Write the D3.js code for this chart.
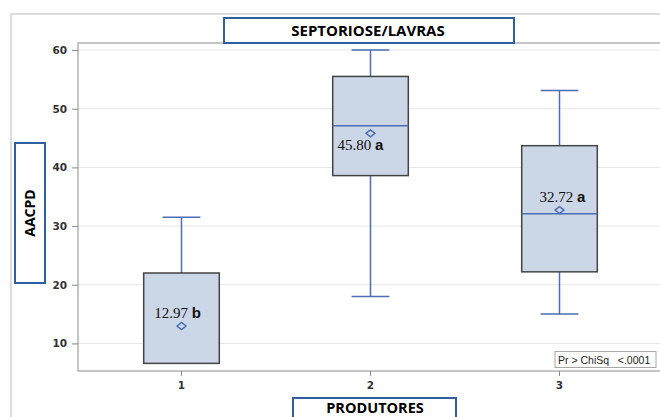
<!DOCTYPE html>
<html><head><meta charset="utf-8">
<script src="https://cdn.jsdelivr.net/npm/d3@7"></script>
<style>html,body{margin:0;padding:0;background:#fff;}svg{display:block;}</style>
</head><body>
<svg id="c" width="660" height="417"></svg>
<script>
const categories = ["1", "2", "3"];
const whiskerLow = [6.6, 18.0, 15.0];
const q1 = [6.6, 38.6, 22.2];
const median = [6.6, 47.1, 32.1];
const q3 = [22.0, 55.5, 43.7];
const whiskerHigh = [31.5, 60.0, 53.1];
const means = [12.97, 45.80, 32.72];
const meanLabels = ["12.97", "45.80", "32.72"];
const groupLetters = ["b", "a", "a"];
const yTicks = [10, 20, 30, 40, 50, 60];
const title = "SEPTORIOSE/LAVRAS";
const xTitle = "PRODUTORES";
const yTitle = "AACPD";
const insetText = ["Pr > ChiSq", "<.0001"];

const svg = d3.select("#c");
const L = 78, T = 43, B = 371, R = 680;
const y = d3.scaleLinear().domain([5.3, 61.2]).range([B, T]);
const x = d3.scaleBand().domain(categories).range([87, 654]).paddingInner(0.6).paddingOuter(0.3);

// outer frame
svg.append("rect").attr("x", 11).attr("y", 14).attr("width", 700).attr("height", 450)
  .attr("fill", "none").attr("stroke", "#dcdcdc").attr("stroke-width", 2);

// gridlines
svg.append("g").selectAll("line").data(yTicks).join("line")
  .attr("x1", L).attr("x2", R).attr("y1", d => y(d)).attr("y2", d => y(d))
  .attr("stroke", "#e6e6e6").attr("stroke-width", 1);

// plot frame
svg.append("rect").attr("x", L).attr("y", T).attr("width", R - L).attr("height", B - T)
  .attr("fill", "none").attr("stroke", "#a0a0a0").attr("stroke-width", 1.2);

// y axis
const ya = svg.append("g").attr("transform", `translate(${L},0)`)
  .call(d3.axisLeft(y).tickValues(yTicks).tickSize(6).tickPadding(5));
ya.select(".domain").remove();
ya.selectAll(".tick line").attr("stroke", "#888");
ya.selectAll(".tick text").attr("font-family", "'DejaVu Sans', sans-serif").attr("font-size", 10.5)
  .attr("font-weight", "bold").attr("fill", "#333");

// x axis
const xa = svg.append("g").attr("transform", `translate(0,${B})`)
  .call(d3.axisBottom(x).tickSize(5).tickPadding(6));
xa.select(".domain").remove();
xa.selectAll(".tick line").attr("stroke", "#888");
xa.selectAll(".tick text").attr("font-family", "'DejaVu Sans', sans-serif").attr("font-size", 10.5)
  .attr("font-weight", "bold").attr("fill", "#333");

const blue = "#4a6db5";
const bw = x.bandwidth();
const g = svg.append("g");
categories.forEach((c, i) => {
  const cx = x(c) + bw / 2;
  g.append("line").attr("x1", cx).attr("x2", cx).attr("y1", y(q3[i])).attr("y2", y(whiskerHigh[i]))
    .attr("stroke", blue).attr("stroke-width", 1.5);
  g.append("line").attr("x1", cx).attr("x2", cx).attr("y1", y(q1[i])).attr("y2", y(whiskerLow[i]))
    .attr("stroke", blue).attr("stroke-width", 1.5);
  [whiskerHigh[i], whiskerLow[i]].forEach(v => {
    if (v !== q1[i]) g.append("line").attr("x1", cx - bw / 4).attr("x2", cx + bw / 4)
      .attr("y1", y(v)).attr("y2", y(v)).attr("stroke", blue).attr("stroke-width", 1.5);
  });
  g.append("rect").attr("x", x(c)).attr("y", y(q3[i])).attr("width", bw).attr("height", y(q1[i]) - y(q3[i]))
    .attr("fill", "#cbd6e6").attr("stroke", "#444").attr("stroke-width", 1.5);
  if (median[i] !== q1[i]) g.append("line").attr("x1", x(c)).attr("x2", x(c) + bw)
    .attr("y1", y(median[i])).attr("y2", y(median[i])).attr("stroke", blue).attr("stroke-width", 1.5);
  const my = y(means[i]);
  g.append("path").attr("d", `M${cx - 4.5},${my} L${cx},${my - 3.5} L${cx + 4.5},${my} L${cx},${my + 3.5} Z`)
    .attr("fill", "none").attr("stroke", blue).attr("stroke-width", 1.4);
});

// mean labels
const labelDy = [-8, 17, -8];
const labelDx = [-4, -10, 3];
categories.forEach((c, i) => {
  const cx = x(c) + bw / 2;
  const t = g.append("text").attr("x", cx + labelDx[i]).attr("y", y(means[i]) + labelDy[i])
    .attr("text-anchor", "middle").attr("fill", "#111");
  t.append("tspan").attr("font-family", "'Liberation Serif', 'Times New Roman', serif").attr("font-size", 15)
    .text(meanLabels[i] + " ");
  t.append("tspan").attr("font-family", "'Liberation Sans', Arial, sans-serif").attr("font-size", 15)
    .attr("font-weight", "bold").text(groupLetters[i]);
});

// inset
svg.append("rect").attr("x", 555).attr("y", 351.5).attr("width", 101).attr("height", 16)
  .attr("fill", "#fff").attr("stroke", "#a8a8a8").attr("stroke-width", 1);
svg.append("text").attr("x", 558).attr("y", 363.5).attr("font-family", "'Liberation Sans', Arial, sans-serif")
  .attr("font-size", 10.5).attr("fill", "#222").attr("xml:space", "preserve")
  .text(insetText[0] + "   " + insetText[1]);

// title box
svg.append("rect").attr("x", 224).attr("y", 18).attr("width", 290).attr("height", 25)
  .attr("fill", "#fff").attr("stroke", "#2f5f9e").attr("stroke-width", 2);
svg.append("text").attr("x", 368).attr("y", 35.5).attr("text-anchor", "middle")
  .attr("font-family", "'Open Sans', 'Liberation Sans', sans-serif").attr("font-weight", "bold")
  .attr("font-size", 15).attr("fill", "#000").text(title);

// y title box
svg.append("rect").attr("x", 15).attr("y", 143).attr("width", 30).attr("height", 140)
  .attr("fill", "#fff").attr("stroke", "#2f5f9e").attr("stroke-width", 2);
svg.append("text").attr("transform", "translate(35,213) rotate(-90)").attr("text-anchor", "middle")
  .attr("font-family", "'Open Sans', 'Liberation Sans', sans-serif").attr("font-weight", "bold")
  .attr("font-size", 14).attr("fill", "#000").text(yTitle);

// x title box
svg.append("rect").attr("x", 293).attr("y", 398).attr("width", 163).attr("height", 30)
  .attr("fill", "#fff").attr("stroke", "#2f5f9e").attr("stroke-width", 2);
svg.append("text").attr("x", 375).attr("y", 413).attr("text-anchor", "middle")
  .attr("font-family", "'Open Sans', 'Liberation Sans', sans-serif").attr("font-weight", "bold")
  .attr("font-size", 14.5).attr("fill", "#000").text(xTitle);
</script>
</body></html>
